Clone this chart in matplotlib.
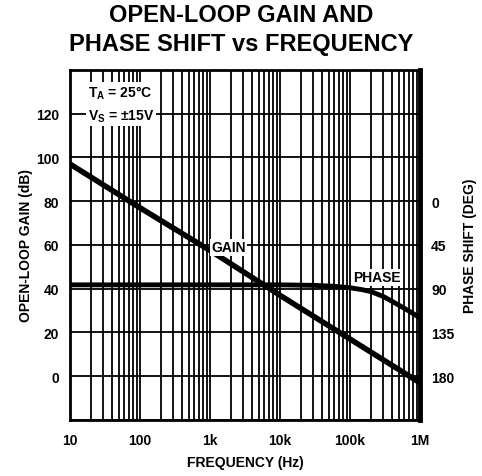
import numpy as np
import matplotlib.pyplot as plt
from matplotlib.ticker import FixedLocator, NullFormatter

plt.rcParams['font.family'] = ['Liberation Sans', 'DejaVu Sans']

# data
freq_gain = [10, 100, 1e3, 1e4, 1e5, 1e6]
gain_db = [97, 77, 57.5, 37, 17, -3]

freq_phase = [10, 1e3, 1e4, 3e4, 6e4, 1e5, 1.5e5, 2e5, 3e5, 4e5, 5e5, 7e5, 1e6]
phase_deg = [86, 86, 86, 86.5, 87.5, 89, 91, 93, 98, 103, 107, 113, 120]

x_ticks = [10, 100, 1e3, 1e4, 1e5, 1e6]
x_labels = ['10', '100', '1k', '10k', '100k', '1M']
gain_ticks = [0, 20, 40, 60, 80, 100, 120]
phase_ticks = [0, 45, 90, 135, 180]

fig = plt.figure(figsize=(4.82, 4.77), dpi=100)
ax = fig.add_axes([0.1452, 0.1174, 0.7262, 0.7338])

ax.set_xscale('log')
ax.set_xlim(10, 1e6)
ax.set_ylim(-20, 140)

# grid: every 1..9 in each decade, every 20 dB
minor = [m * 10 ** d for d in range(1, 6) for m in range(2, 10)]
for f in minor + x_ticks:
    ax.axvline(f, color='black', lw=1.3, zorder=1)
for g in range(-20, 141, 20):
    ax.axhline(g, color='black', lw=1.3, zorder=1)

ax.xaxis.set_major_locator(FixedLocator(x_ticks))
ax.xaxis.set_minor_locator(FixedLocator(minor))
ax.xaxis.set_minor_formatter(NullFormatter())
ax.set_xticklabels(x_labels)
ax.set_yticks(gain_ticks)
ax.tick_params(axis='x', which='both', length=0, labelsize=10, pad=9)
ax.tick_params(axis='y', which='both', length=0, labelsize=10, pad=8)
for lab in ax.get_xticklabels() + ax.get_yticklabels():
    lab.set_fontweight('bold')

for s in ['left', 'right', 'top', 'bottom']:
    ax.spines[s].set_linewidth(2)
ax.spines['right'].set_linewidth(3.5)

ax.plot(freq_gain, gain_db, color='black', lw=4, zorder=3, solid_capstyle='butt')

ax2 = ax.twinx()
ax2.set_ylim(225, -135)
ax2.set_yticks(phase_ticks)
ax2.tick_params(length=0, labelsize=10, pad=8)
for lab in ax2.get_yticklabels():
    lab.set_fontweight('bold')
for s in ax2.spines.values():
    s.set_visible(False)
ax2.plot(freq_phase, phase_deg, color='black', lw=3.5, zorder=3)

ax.text(18, 124.5, 'T$_\\mathregular{A}$ = 25°C\nV$_\\mathregular{S}$ = ±15V', fontsize=10,
        fontweight='bold', ha='left', va='center', zorder=4, linespacing=1.5,
        bbox=dict(facecolor='white', edgecolor='none', pad=1.5))
ax.text(1050, 59, 'GAIN', fontsize=10, fontweight='bold', ha='left', va='center',
        zorder=4, bbox=dict(facecolor='white', edgecolor='none', pad=1))
ax.text(2.4e5, 45.3, 'PHASE', fontsize=10, fontweight='bold', ha='center', va='center',
        zorder=4, bbox=dict(facecolor='white', edgecolor='none', pad=1))

ax.set_xlabel('FREQUENCY (Hz)', fontsize=10, fontweight='bold', labelpad=6)
ax.set_ylabel('OPEN-LOOP GAIN (dB)', fontsize=10, fontweight='bold', labelpad=2)
ax2.set_ylabel('PHASE SHIFT (DEG)', fontsize=10, fontweight='bold', labelpad=6)

fig.text(0.5, 0.937, 'OPEN-LOOP GAIN AND\nPHASE SHIFT vs FREQUENCY', ha='center',
         va='center', fontsize=17, fontweight='heavy', linespacing=1.3)

fig.savefig('out.png', dpi=100, facecolor='white')
